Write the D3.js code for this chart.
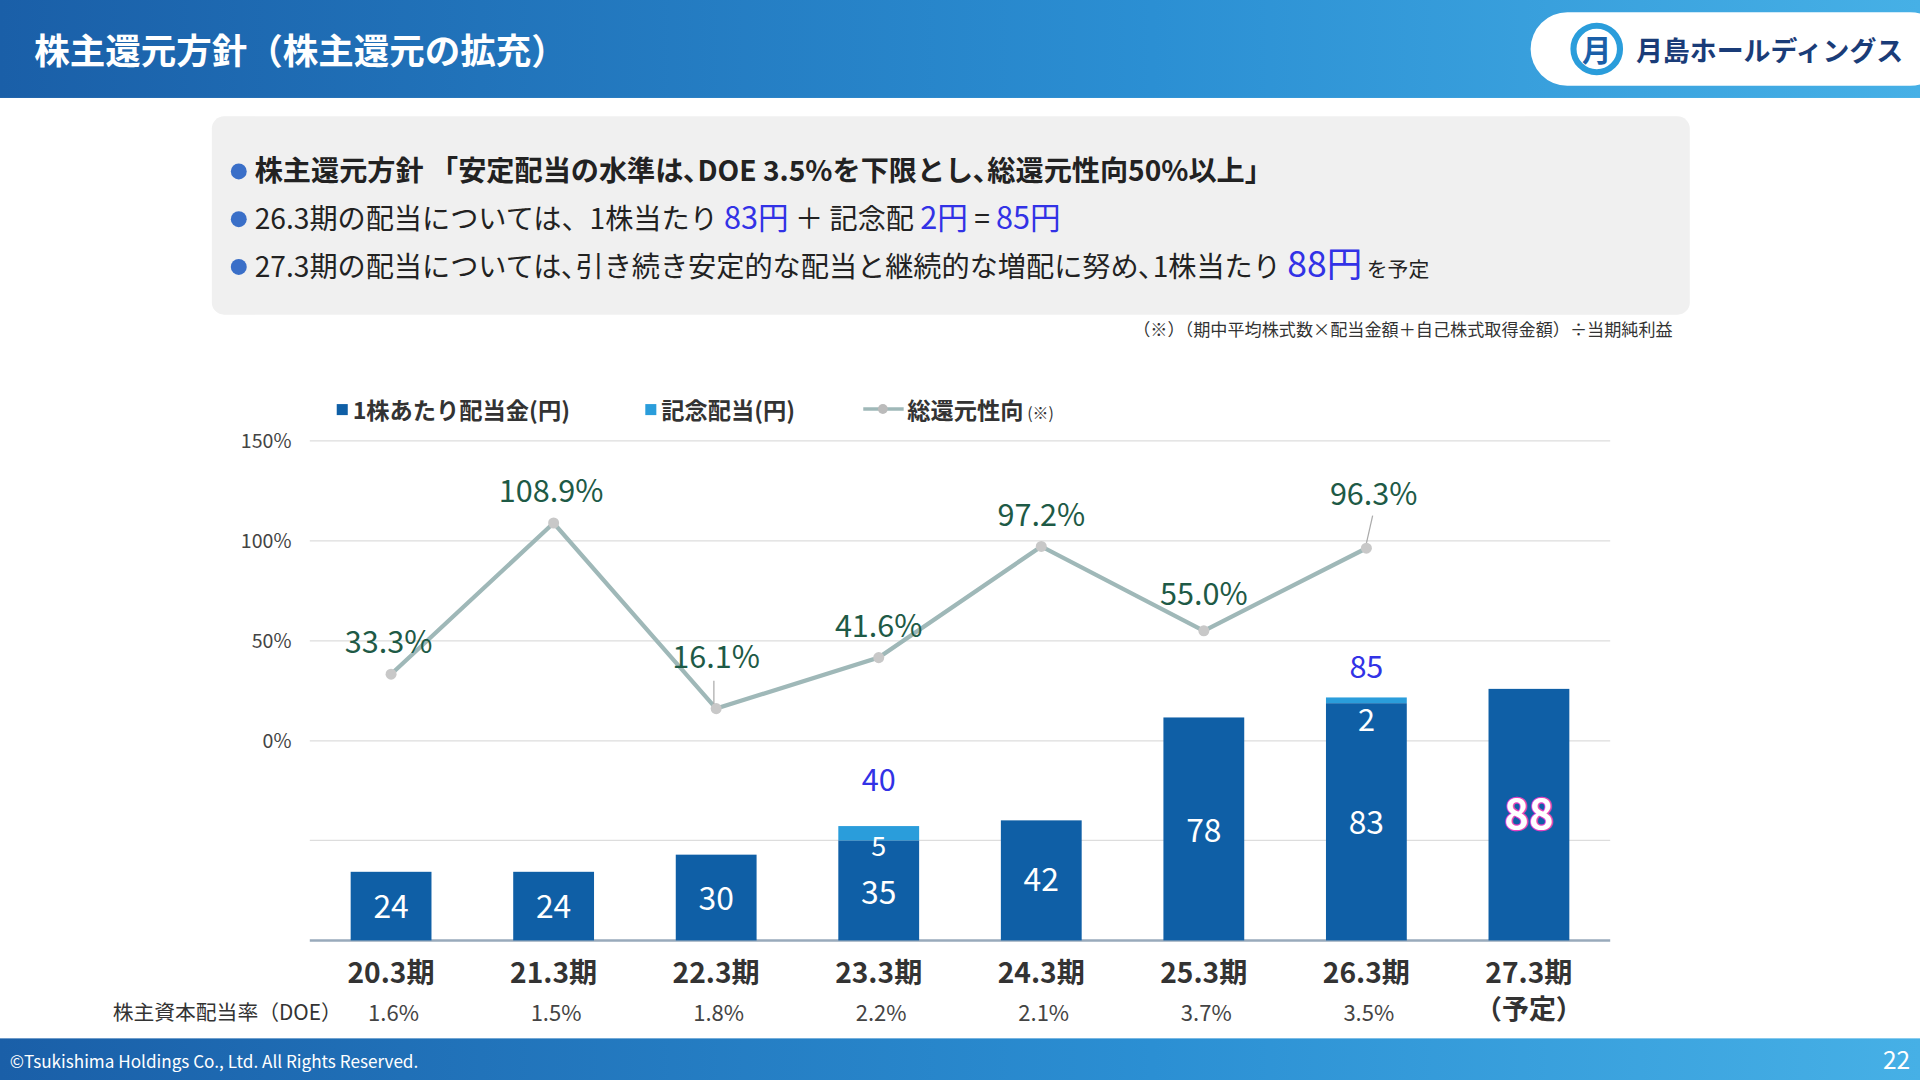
<!DOCTYPE html>
<html><head><meta charset="utf-8">
<script src="https://cdn.jsdelivr.net/npm/d3@7"></script>
<style>body{margin:0;background:#fff;overflow:hidden}svg{display:block}text{font-family:"Noto Sans CJK JP","Noto Sans",sans-serif}</style>
</head><body>
<script>
const categories=["20.3期","21.3期","22.3期","23.3期","24.3期","25.3期","26.3期","27.3期"];
const dividend=[24,24,30,35,42,78,83,88];
const commemorative=[0,0,0,5,0,0,2,0];
const totals=[null,null,null,40,null,null,85,null];
const payout=[33.3,108.9,16.1,41.6,97.2,55.0,96.3,null];
const doe=["1.6%","1.5%","1.8%","2.2%","2.1%","3.7%","3.5%",""];
const pctTicks=[0,50,100,150];

const W=1568,H=882;
const svg=d3.select("body").append("svg").attr("width",1920).attr("height",1080).attr("viewBox",`0 0 ${W} ${H}`);
const defs=svg.append("defs");
const g1=defs.append("linearGradient").attr("id","hd");
g1.append("stop").attr("offset","0").attr("stop-color","#1a5fa8");
g1.append("stop").attr("offset","0.6").attr("stop-color","#2b8fd3");
g1.append("stop").attr("offset","1").attr("stop-color","#46b0e6");
svg.append("rect").attr("width",W).attr("height",80).attr("fill","url(#hd)");
svg.append("rect").attr("y",848).attr("width",W).attr("height",34).attr("fill","url(#hd)");
svg.append("text").attr("x",28).attr("y",52).attr("fill","#fff").attr("font-size",29).attr("font-weight",700).text("株主還元方針（株主還元の拡充）");
svg.append("rect").attr("x",1250).attr("y",10).attr("width",340).attr("height",60).attr("rx",30).attr("fill","#fff");
svg.append("circle").attr("cx",1304).attr("cy",40).attr("r",19).attr("fill","none").attr("stroke","#2a9ddb").attr("stroke-width",5);
svg.append("text").attr("x",1304).attr("y",50).attr("text-anchor","middle").attr("font-size",24).attr("font-weight",700).attr("fill","#1a5fa8").text("月");
svg.append("text").attr("x",1336).attr("y",50).attr("font-size",22).attr("font-weight",700).attr("fill","#1a3c78").text("月島ホールディングス");
svg.append("text").attr("x",8).attr("y",872).attr("fill","#fff").attr("font-size",14).text("©Tsukishima Holdings Co., Ltd. All Rights Reserved.");
svg.append("text").attr("x",1560).attr("y",873).attr("text-anchor","end").attr("fill","#fff").attr("font-size",20).text("22");

svg.append("rect").attr("x",173).attr("y",95).attr("width",1207).attr("height",162).attr("rx",10).attr("fill","#f0f0f0");
const blue="#3232e6";
function line(y,parts){const t=svg.append("text").attr("x",208).attr("y",y).attr("font-size",23).attr("fill","#222");
 parts.forEach(p=>t.append("tspan").attr("fill",p[1]||"#222").attr("font-size",p[2]||23).attr("font-weight",p[3]||400).text(p[0]));
 svg.append("circle").attr("cx",195).attr("cy",y-8).attr("r",6.5).attr("fill","#3a6fc8");}
line(148,[["株主還元方針 「安定配当の水準は､DOE 3.5%を下限とし､総還元性向50%以上」",null,23,700]]);
line(187,[["26.3期の配当については、1株当たり "],["83円",blue,25],[" ＋ 記念配 "],["2円",blue,25],[" = "],["85円",blue,25]]);
line(226,[["27.3期の配当については､引き続き安定的な配当と継続的な増配に努め､1株当たり "],["88円",blue,29],["  を予定",null,17]]);
svg.append("text").attr("x",1366).attr("y",274).attr("text-anchor","end").attr("font-size",14).attr("fill","#333").text("（※）（期中平均株式数×配当金額＋自己株式取得金額）÷当期純利益");

// legend
svg.append("rect").attr("x",275).attr("y",330).attr("width",9).attr("height",9).attr("fill","#0f5fa6");
svg.append("text").attr("x",288).attr("y",342).attr("font-size",19).attr("font-weight",700).attr("fill","#333").text("1株あたり配当金(円)");
svg.append("rect").attr("x",527).attr("y",330).attr("width",9).attr("height",9).attr("fill","#2a9ddb");
svg.append("text").attr("x",540).attr("y",342).attr("font-size",19).attr("font-weight",700).attr("fill","#333").text("記念配当(円)");
svg.append("line").attr("x1",705).attr("x2",738).attr("y1",334).attr("y2",334).attr("stroke","#9fb8b8").attr("stroke-width",3);
svg.append("circle").attr("cx",721).attr("cy",334).attr("r",4).attr("fill","#bbb");
svg.append("text").attr("x",741).attr("y",342).attr("font-size",19).attr("font-weight",700).attr("fill","#333").text("総還元性向").append("tspan").attr("font-size",13).attr("font-weight",400).text(" (※)");

const x=d3.scaleBand().domain(categories).range([253,1315]).paddingInner(0.5).paddingOuter(0.25);
const yP=d3.scaleLinear().domain([0,150]).range([605,360]);
const yB=d3.scaleLinear().domain([0,35]).range([768,686.3]);
[0,35].forEach(v=>svg.append("line").attr("x1",253).attr("x2",1315).attr("y1",yB(v)).attr("y2",yB(v)).attr("stroke",v==0?"#9ab":"#ddd").attr("stroke-width",v==0?2:1));
pctTicks.forEach(v=>{svg.append("line").attr("x1",253).attr("x2",1315).attr("y1",yP(v)).attr("y2",yP(v)).attr("stroke","#ddd");
 svg.append("text").attr("x",238).attr("y",yP(v)+6).attr("text-anchor","end").attr("font-size",16).attr("fill","#444").text(v+"%");});
const bw=66, cx=c=>x(c)+x.bandwidth()/2;
const labY=[750,750,743,738,728,688,681,677];
categories.forEach((c,i)=>{
 svg.append("rect").attr("x",cx(c)-bw/2).attr("y",yB(dividend[i])).attr("width",bw).attr("height",yB(0)-yB(dividend[i])).attr("fill","#0f5fa6");
 if(commemorative[i]){svg.append("rect").attr("x",cx(c)-bw/2).attr("y",yB(dividend[i]+commemorative[i])).attr("width",bw).attr("height",yB(0)-yB(commemorative[i])).attr("fill","#2a9ddb");
  svg.append("text").attr("x",cx(c)).attr("y",i==6?597:699).attr("text-anchor","middle").attr("font-size",i==6?25:22).attr("fill","#fff").text(commemorative[i]);}
 if(totals[i])svg.append("text").attr("x",cx(c)).attr("y",i==3?646:554).attr("text-anchor","middle").attr("font-size",25).attr("fill",blue).text(totals[i]);
 const t=svg.append("text").attr("x",cx(c)).attr("y",labY[i]).attr("text-anchor","middle").attr("font-size",i==7?34:26).attr("font-weight",i==7?700:400).attr("fill","#fff").text(dividend[i]);
 if(i==7)t.attr("stroke","#e040c0").attr("stroke-width",2).attr("paint-order","stroke");
 svg.append("text").attr("x",cx(c)).attr("y",803).attr("text-anchor","middle").attr("font-size",23).attr("font-weight",700).attr("fill","#333").text(c);
 svg.append("text").attr("x",cx(c)+2).attr("y",834).attr("text-anchor","middle").attr("font-size",18).attr("fill","#444").text(doe[i]);
});
svg.append("text").attr("x",cx("27.3期")).attr("y",832).attr("text-anchor","middle").attr("font-size",22).attr("font-weight",700).attr("fill","#333").text("（予定）");
svg.append("text").attr("x",92).attr("y",833).attr("font-size",17).attr("fill","#333").text("株主資本配当率（DOE）");
const pts=payout.map((v,i)=>[cx(categories[i]),v]).filter(d=>d[1]!=null);
svg.append("path").attr("d",d3.line().x(d=>d[0]).y(d=>yP(d[1]))(pts)).attr("fill","none").attr("stroke","#9fb8b8").attr("stroke-width",3.5);
const offs=[[-2,-17],[-2,-17],[0,-33],[0,-17],[0,-17],[0,-21],[6,-35]];
svg.append("line").attr("x1",583).attr("x2",583).attr("y1",556).attr("y2",yP(16.1)).attr("stroke","#aaa");
svg.append("line").attr("x1",1121).attr("x2",1115).attr("y1",421).attr("y2",yP(96.3)).attr("stroke","#aaa");
pts.forEach((d,i)=>{svg.append("circle").attr("cx",d[0]).attr("cy",yP(d[1])).attr("r",4.5).attr("fill","#c8c8c8");
 svg.append("text").attr("x",d[0]+offs[i][0]).attr("y",yP(d[1])+offs[i][1]).attr("text-anchor","middle").attr("font-size",25).attr("fill","#1e5a46").text(d[1].toFixed(1)+"%");});
</script></body></html>
